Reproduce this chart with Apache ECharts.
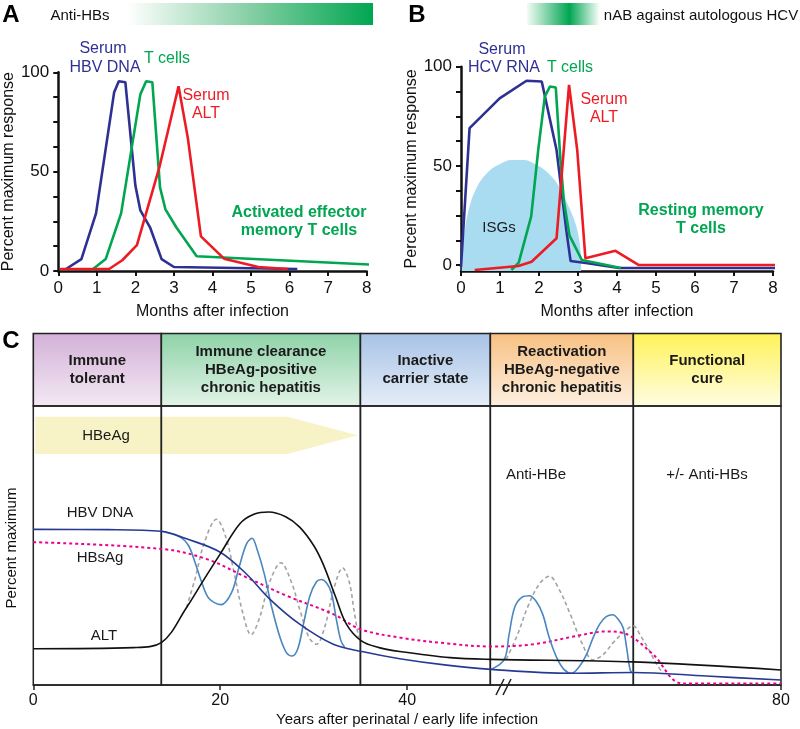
<!DOCTYPE html>
<html><head><meta charset="utf-8">
<script src="https://cdn.jsdelivr.net/npm/echarts@6/dist/echarts.min.js"></script>
<style>html,body{margin:0;padding:0;background:#fff}#c{width:800px;height:729px}</style>
</head><body><div id="c"></div>
<script>
// ---------- DATA ----------
const pctTicks = [0, 12.5, 25, 37.5, 50, 62.5, 75, 87.5, 100];
const pctLabels = [0, 50, 100];
const yearTicks = [0, 20, 40, 80];

// Panel A (HBV, months after infection, % max response)
const aHbvDna = [[0.2,1],[0.6,6],[0.98,29],[1.45,90],[1.57,95.5],[1.74,95],[2.0,43],[2.13,30.5],[2.38,22],[2.68,6],[3.0,2],[6.2,1]];
const aTCells = [[0.87,0.5],[1.23,6],[1.63,29],[2.13,89],[2.28,95.5],[2.44,95],[2.64,42],[2.78,31],[3.06,22],[3.59,7.4],[8.12,3.2]];
const aAlt = [[0.04,1],[1.32,1],[1.66,5.4],[2.04,13],[2.62,52],[3.12,93],[3.36,67],[3.7,17.4],[4.3,6.2],[5.19,2],[5.95,1]];

// Panel B (HCV)
const bHcvRna = [[0,-1],[0.22,69],[0.99,84],[1.68,92.9],[2.07,92.5],[2.45,58],[2.7,17.6],[2.81,2],[3.2,1],[4.05,-1.5],[8.2,-1.5]];
const bTCells = [[1.29,-2.5],[1.48,1.2],[1.8,24.5],[1.98,58],[2.15,85],[2.28,90],[2.43,89.5],[2.55,53],[2.64,32],[2.78,15],[3.1,2.5],[4.1,-1.5]];
const bAlt = [[0.35,-2.5],[1.47,-0.5],[1.81,1.7],[2.45,13.5],[2.77,90.8],[2.98,58],[3.19,3.4],[3.96,7.2],[4.56,0],[8.2,0]];
const bIsgs = [[0.02,0],[0.08,15],[0.2,28],[0.4,39],[0.7,47],[1.0,51],[1.3,53],[1.6,53],[1.9,51],[2.2,47],[2.5,40],[2.75,30],[2.95,20],[3.05,10],[3.08,0]];

// Panel C (years after infection, % maximum)
const phaseNames = ['Immune\ntolerant', 'Immune clearance\nHBeAg-positive\nchronic hepatitis', 'Inactive\ncarrier state', 'Reactivation\nHBeAg-negative\nchronic hepatitis', 'Functional\ncure'];
const phaseBounds = [0, 13.7, 35.0, 48.9, 64.2, 80];
const hbeagArrow = [0.2, 27.2, 34.7, 82.8, 96.2]; // start, body end, tip, low, high
const cHbvDna = [[0,55.8],[8,55.7],[13.7,55.1],[16.4,52.4],[20,47.6],[22.8,39.8],[25.3,30.8],[28.5,21.8],[32.1,14.6],[35.3,11.9],[39.2,9.4],[44,7.2],[49,5.6],[57.4,4.2],[64.2,4.5],[72,3.2],[80,1.8]];
const cAlt = [[0,13],[10.7,13.4],[13.7,15.2],[16.4,27.8],[18.2,37.5],[20,47],[22.1,57.8],[23.6,61.2],[25.2,62],[27,60.3],[28.5,56.6],[30,50],[31,43.4],[32.3,32],[33.5,21.8],[35.1,15.8],[37,13.4],[39.2,12],[44.6,9.8],[49,9.2],[64.2,8.3],[80,5.4]];
const cHbsAg = [[0,51.2],[13.7,48.8],[18.5,45.2],[22.8,38.6],[27.1,32],[32.1,25.4],[35,20],[39.2,17],[44,15],[49,13.8],[53.5,14.6],[58,17.5],[61.3,19.2],[63.5,18.2],[66.3,11],[69.5,0.5],[80,0.5]];
const cHbvFlare1 = [[13.7,55.1],[15.7,53],[16.6,50],[17.3,44],[18.0,37],[18.8,31],[20.1,28.8],[21.2,33],[22.0,42],[22.8,50.5],[23.4,52.6],[24.0,48],[24.7,40],[25.5,28],[26.4,17],[27.1,11.5],[27.7,10.4],[28.3,13],[28.9,21.8],[29.6,32],[30.3,37],[30.8,37.8],[31.4,36.5],[31.9,33],[32.4,24],[32.9,16],[33.3,13.6]];
const cHbvFlare2 = [[49,5.6],[50.4,9.2],[50.9,18],[51.5,27.8],[52.3,31.5],[53.1,32],[53.8,30],[54.5,25.4],[55.2,17],[56,9.8],[56.8,5.5],[57.6,4.2],[58.4,6.5],[59.2,11],[59.9,17],[60.6,21.8],[61.3,24.5],[62,25.2],[62.6,23.5],[63.1,20.6],[63.5,13],[63.9,5],[64.2,4.7]];
const cAltFlare1 = [[16.4,27.8],[17.3,38],[18.3,51],[19.6,59.4],[20.6,53],[21.5,40],[22.4,26],[23.3,18],[24.2,24],[25.3,37],[26.5,43.8],[27.6,37],[28.6,26],[29.5,17],[30.3,14.6],[31.2,21],[32.2,35],[33.1,42],[33.8,37],[34.3,27],[34.8,17]];
const cAltFlare2 = [[50.6,9.2],[51.8,18],[52.9,28],[54.1,36],[55.2,39],[56.3,34],[57.5,25],[58.7,15],[59.9,9],[61,11],[62,15],[63.2,19],[64.2,21.2],[65,17.5],[65.8,13],[66.6,8],[67.4,4]];

// ---------- STYLE ----------
const FONT = "'Liberation Sans', Arial, Helvetica, sans-serif";
const BLUE = '#2e3192', GREEN = '#00a651', RED = '#ed1c24', INK = '#111';
const headerColors = [['#d3b1d7','#f4e9f4'],['#8dd2a7','#e3f4e8'],['#a7c2e5','#e6eef9'],['#f8c081','#fdf0e1'],['#fff257','#fffde3']];

const chart = echarts.init(document.getElementById('c'), null, {renderer: 'canvas'});

function monthAxisX(idx) {
  return {gridIndex: idx, type: 'value', min: 0, max: 8, interval: 1,
    axisLine: {onZero: false, lineStyle: {color: INK, width: 2.5}},
    axisTick: {length: 5, lineStyle: {color: INK, width: 2}},
    axisLabel: {fontSize: 17, color: INK, margin: 9, fontFamily: FONT},
    splitLine: {show: false},
    name: 'Months after infection', nameLocation: 'middle', nameGap: 33,
    nameTextStyle: {fontSize: 16, color: INK, fontFamily: FONT}};
}
function pctAxisY(idx, min, gap) {
  return {gridIndex: idx, type: 'value', min: min, max: 100,
    axisLine: {show: true, onZero: false, lineStyle: {color: INK, width: 2.5}},
    axisTick: {show: true, length: 5, lineStyle: {color: INK, width: 2}, customValues: pctTicks},
    axisLabel: {fontSize: 17, color: INK, margin: 9, fontFamily: FONT, customValues: pctLabels},
    splitLine: {show: false},
    name: 'Percent maximum response', nameLocation: 'middle', nameGap: gap,
    nameTextStyle: {fontSize: 16, color: INK, fontFamily: FONT}};
}
function ln(data, color, xi, extra) {
  return Object.assign({type: 'line', data: data, xAxisIndex: xi, yAxisIndex: xi, showSymbol: false,
    clip: false, lineStyle: {color: color, width: 2.6}, itemStyle: {color: color}, z: 3, silent: true}, extra || {});
}
function smoothLn(data, color, width, dash, z, s) {
  return ln(data, color, 2, {smooth: s, lineStyle: {color: color, width: width, type: dash}, z: z});
}

// markArea items for panel C
const headerAreas = [], boxAreas = [];
for (let i = 0; i < phaseNames.length; i++) {
  headerAreas.push([{name: phaseNames[i], xAxis: phaseBounds[i], yAxis: 100,
    itemStyle: {color: {type: 'linear', x: 0, y: 0, x2: 0, y2: 1, colorStops: [{offset: 0, color: headerColors[i][0]}, {offset: 1, color: headerColors[i][1]}]},
      borderColor: '#222', borderWidth: 1.6}},
    {xAxis: phaseBounds[i + 1], yAxis: 126}]);
  boxAreas.push([{name: '', xAxis: phaseBounds[i], yAxis: 0,
    itemStyle: {color: 'rgba(0,0,0,0)', borderColor: '#222', borderWidth: 1.5}, label: {show: false}},
    {xAxis: phaseBounds[i + 1], yAxis: 100}]);
}

function txt(x, y, text, color, size, bold, extra) {
  return Object.assign({type: 'text', x: x, y: y, z: 100, silent: true,
    style: {text: text, fill: color, font: (bold ? 'bold ' : '') + size + 'px ' + FONT, align: 'center', verticalAlign: 'middle'}}, extra || {});
}

const option = {
  animation: false,
  backgroundColor: '#fff',
  grid: [
    {left: 52.7, top: 72.3, width: 314, height: 198.7},
    {left: 461, top: 66.7, width: 312, height: 204.3},
    {left: 33.3, top: 333.5, width: 747.7, height: 351.5}
  ],
  xAxis: [
    monthAxisX(0),
    monthAxisX(1),
    {gridIndex: 2, type: 'value', min: 0, max: 80,
      axisLine: {onZero: false, lineStyle: {color: '#222', width: 1.6}},
      axisTick: {length: 5, lineStyle: {color: '#222', width: 1.5}, customValues: yearTicks},
      axisLabel: {fontSize: 16, color: INK, margin: 8, fontFamily: FONT, customValues: yearTicks},
      splitLine: {show: false},
      name: 'Years after perinatal / early life infection', nameLocation: 'middle', nameGap: 27,
      nameTextStyle: {fontSize: 15, color: INK, fontFamily: FONT}}
  ],
  yAxis: [
    pctAxisY(0, 0, 29.5),
    pctAxisY(1, -3, 32),
    {gridIndex: 2, type: 'value', min: 0, max: 126, show: false}
  ],
  series: [
    // Panel B ISGs area
    {type: 'line', data: bIsgs, xAxisIndex: 1, yAxisIndex: 1, showSymbol: false, smooth: 0.4, z: 1, silent: true,
      lineStyle: {width: 0}, areaStyle: {color: '#a9dbf1', opacity: 1, origin: 'start'}},
    ln(aHbvDna, BLUE, 0), ln(aTCells, GREEN, 0), ln(aAlt, RED, 0),
    ln(bHcvRna, BLUE, 1), ln(bTCells, GREEN, 1), ln(bAlt, RED, 1),
    // HBeAg arrow (under the phase frames)
    {type: 'custom', xAxisIndex: 2, yAxisIndex: 2, z: 0, silent: true, data: [hbeagArrow],
      encode: {x: [0, 1, 2], y: [3, 4]},
      renderItem: function (params, api) {
        const s = api.value(0), b = api.value(1), t = api.value(2), lo = api.value(3), hi = api.value(4);
        const p1 = api.coord([s, hi]), p2 = api.coord([b, hi]), p3 = api.coord([t, (lo + hi) / 2]), p4 = api.coord([b, lo]), p5 = api.coord([s, lo]);
        return {type: 'polygon', shape: {points: [p1, p2, p3, p4, p5]}, style: {fill: '#f7f3c6'}};
      }},
    // Panel C frame / header
    {type: 'line', data: [], xAxisIndex: 2, yAxisIndex: 2, z: 1, silent: true,
      markArea: {silent: true, label: {show: true, position: 'inside', color: '#1a1a1a', fontSize: 15, fontWeight: 'bold', lineHeight: 18, fontFamily: FONT},
        data: headerAreas.concat(boxAreas)}},
    smoothLn(cAltFlare1, '#a3a3a3', 1.6, [4, 3], 3, 0.35),
    smoothLn(cAltFlare2, '#a3a3a3', 1.6, [4, 3], 3, 0.35),
    smoothLn(cHbsAg, '#ec008c', 2, [3, 3], 4, 0.35),
    smoothLn(cHbvFlare1, '#4a86c0', 1.6, 'solid', 5, 0.35),
    smoothLn(cHbvFlare2, '#4a86c0', 1.6, 'solid', 5, 0.35),
    smoothLn(cHbvDna, '#263a94', 1.6, 'solid', 6, 0.35),
    smoothLn(cAlt, '#111', 1.6, 'solid', 6, 0.35)
  ],
  graphic: [
    txt(11, 15, 'A', '#000', 24, true),
    txt(417, 15, 'B', '#000', 24, true),
    txt(11, 341, 'C', '#000', 24, true),
    txt(80, 16, 'Anti-HBs', INK, 15, false),
    {type: 'rect', shape: {x: 127, y: 3, width: 246, height: 22}, silent: true,
      style: {fill: new echarts.graphic.LinearGradient(0, 0, 1, 0, [{offset: 0, color: '#ffffff'}, {offset: 0.5, color: '#86cfa4'}, {offset: 1, color: '#00a651'}])}},
    {type: 'rect', shape: {x: 527, y: 3, width: 73, height: 22}, silent: true,
      style: {fill: new echarts.graphic.LinearGradient(0, 0, 1, 0, [{offset: 0, color: '#f3fbf6'}, {offset: 0.58, color: '#00a651'}, {offset: 1, color: '#ffffff'}])}},
    txt(701, 16, 'nAB against autologous HCV', INK, 15, false),
    // Panel A annotations
    txt(103, 49, 'Serum', BLUE, 16, false), txt(105, 68, 'HBV DNA', BLUE, 16, false),
    txt(167, 59, 'T cells', GREEN, 16, false),
    txt(206, 96, 'Serum', RED, 16, false), txt(206, 114, 'ALT', RED, 16, false),
    txt(299, 213, 'Activated effector', GREEN, 16, true), txt(299, 231, 'memory T cells', GREEN, 16, true),
    // Panel B annotations
    txt(502, 50, 'Serum', BLUE, 16, false), txt(504, 68, 'HCV RNA', BLUE, 16, false),
    txt(570, 68, 'T cells', GREEN, 16, false),
    txt(604, 100, 'Serum', RED, 16, false), txt(604, 118, 'ALT', RED, 16, false),
    txt(499, 228, 'ISGs', '#1a1a1a', 15, false),
    txt(701, 211, 'Resting memory', GREEN, 16, true), txt(701, 229, 'T cells', GREEN, 16, true),
    // Panel C annotations
    txt(106, 436, 'HBeAg', '#1a1a1a', 15, false),
    txt(536, 475, 'Anti-HBe', '#1a1a1a', 15, false),
    txt(707, 475, '+/- Anti-HBs', '#1a1a1a', 15, false),
    txt(100, 513, 'HBV DNA', '#1a1a1a', 15, false),
    txt(100, 558, 'HBsAg', '#1a1a1a', 15, false),
    txt(104, 636, 'ALT', '#1a1a1a', 15, false),
    txt(12, 548, 'Percent maximum', INK, 15, false, {rotation: Math.PI / 2}),
    // axis break mark
    {type: 'line', shape: {x1: 496, y1: 695, x2: 504, y2: 679}, style: {stroke: '#222', lineWidth: 1.5}, z: 100},
    {type: 'line', shape: {x1: 503, y1: 695, x2: 511, y2: 679}, style: {stroke: '#222', lineWidth: 1.5}, z: 100}
  ]
};
chart.setOption(option);
</script></body></html>
